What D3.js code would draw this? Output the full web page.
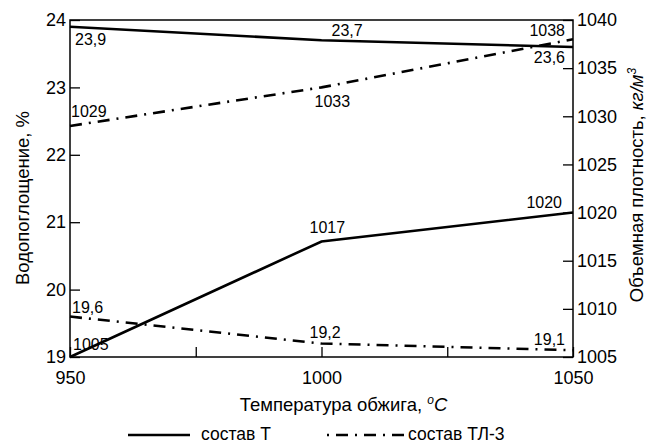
<!DOCTYPE html>
<meta charset="utf-8">
<style>
  body { margin: 0; background: #fff; }
  text { font-family: "Liberation Sans", Arial, sans-serif; fill: #000; }
</style>
<body>
<script src="https://d3js.org/d3.v7.min.js"></script>
<script>
  // data
  var temps = [950, 1000, 1050];
  var waterT = [23.9, 23.7, 23.6];      // водопоглощение, состав Т
  var waterTL = [19.6, 19.2, 19.1];     // водопоглощение, состав ТЛ-3
  var densT = [1005, 1017, 1020];       // плотность, состав Т
  var densTL = [1029, 1033, 1038];      // плотность, состав ТЛ-3
  var xTicks = [950, 975, 1000, 1025, 1050];
  var xTickLabels = [950, 1000, 1050];
  var leftTicks = [19, 20, 21, 22, 23, 24];
  var rightTicks = [1005, 1010, 1015, 1020, 1025, 1030, 1035, 1040];

  var svg = d3.select("body").append("svg")
      .attr("width", 649)
      .attr("height", 443);

  var margin = {top: 20, right: 76, bottom: 86, left: 70},
      width = 649 - margin.left - margin.right,
      height = 443 - margin.top - margin.bottom,
      g = svg.append("g").attr("transform", "translate(" + margin.left + "," + margin.top + ")");

  var x = d3.scaleLinear().domain([950, 1050]).range([0, width]);
  var yL = d3.scaleLinear().domain([19, 24]).range([height, 0]);
  var yR = d3.scaleLinear().domain([1005, 1040]).range([height, 0]);

  var dashDot = "12,7,2,7";

  // frame
  g.append("rect")
      .attr("width", width).attr("height", height)
      .attr("fill", "none").attr("stroke", "#000").attr("stroke-width", 1.5);

  // axes (ticks pointing inward)
  var axL = g.append("g").call(d3.axisLeft(yL).tickValues(leftTicks).tickFormat(d3.format("d"))
      .tickSizeInner(-10).tickSizeOuter(0).tickPadding(4));
  var axR = g.append("g").attr("transform", "translate(" + width + ",0)")
      .call(d3.axisRight(yR).tickValues(rightTicks).tickFormat(d3.format("d"))
      .tickSizeInner(-10).tickSizeOuter(0).tickPadding(4));
  var axB = g.append("g").attr("transform", "translate(0," + height + ")")
      .call(d3.axisBottom(x).tickValues(xTicks).tickSizeInner(-10).tickSizeOuter(0)
          .tickFormat(function(d) { return xTickLabels.indexOf(d) >= 0 ? d : ""; }));

  [axL, axR, axB].forEach(function(a) {
    a.select(".domain").remove();
    a.selectAll("line").attr("stroke", "#000").attr("stroke-width", 1.3);
    a.selectAll("text").attr("font-size", 18).attr("font-family", "Liberation Sans, Arial, sans-serif");
  });
  axB.selectAll("text").attr("y", 27).attr("dy", 0);

  // lines
  function lineFor(yScale) {
    return d3.line().x(function(d, i) { return x(temps[i]); }).y(function(d) { return yScale(d); });
  }
  var series = [
    {vals: waterT, y: yL, dash: null},
    {vals: waterTL, y: yL, dash: dashDot},
    {vals: densT, y: yR, dash: null},
    {vals: densTL, y: yR, dash: dashDot}
  ];
  series.forEach(function(s) {
    g.append("path")
        .datum(s.vals)
        .attr("d", lineFor(s.y))
        .attr("fill", "none")
        .attr("stroke", "#000")
        .attr("stroke-width", 2.6)
        .attr("stroke-dasharray", s.dash);
  });

  // value labels
  function fmt(v) { return String(v).replace(".", ","); }
  var labels = [
    {v: waterT[0], t: temps[0], y: yL, dx: 5, dy: 18, a: "start"},
    {v: waterT[1], t: temps[1], y: yL, dx: 10, dy: -4, a: "start"},
    {v: waterT[2], t: temps[2], y: yL, dx: -8, dy: 16, a: "end"},
    {v: waterTL[0], t: temps[0], y: yL, dx: 2, dy: -4, a: "start"},
    {v: waterTL[1], t: temps[1], y: yL, dx: -12, dy: -6, a: "start"},
    {v: waterTL[2], t: temps[2], y: yL, dx: -8, dy: -5, a: "end"},
    {v: densT[0], t: temps[0], y: yR, dx: 3, dy: -7, a: "start"},
    {v: densT[1], t: temps[1], y: yR, dx: -12, dy: -8, a: "start"},
    {v: densT[2], t: temps[2], y: yR, dx: -11, dy: -5, a: "end"},
    {v: densTL[0], t: temps[0], y: yR, dx: 1, dy: -9, a: "start"},
    {v: densTL[1], t: temps[1], y: yR, dx: -7, dy: 20, a: "start"},
    {v: densTL[2], t: temps[2], y: yR, dx: -8, dy: -3, a: "end"}
  ];
  g.selectAll(".vlabel").data(labels).enter().append("text")
      .attr("class", "vlabel")
      .attr("x", function(d) { return x(d.t) + d.dx; })
      .attr("y", function(d) { return d.y(d.v) + d.dy; })
      .attr("text-anchor", function(d) { return d.a; })
      .attr("font-size", 16)
      .text(function(d) { return fmt(d.v); });

  // axis titles
  svg.append("text")
      .attr("transform", "translate(29,198) rotate(-90)")
      .attr("text-anchor", "middle")
      .attr("font-size", 18.5)
      .text("Водопоглощение, %");

  var rt = svg.append("text")
      .attr("transform", "translate(643,185) rotate(-90)")
      .attr("text-anchor", "middle")
      .attr("font-size", 18.5);
  rt.append("tspan").text("Объемная плотность, ");
  rt.append("tspan").attr("font-style", "italic").text("кг/м");
  rt.append("tspan").attr("font-style", "italic").attr("font-size", 12).attr("dy", -7).text("3");

  var xt = svg.append("text")
      .attr("x", margin.left + width / 2 + 22)
      .attr("y", 411)
      .attr("text-anchor", "middle")
      .attr("font-size", 18.5);
  xt.append("tspan").text("Температура обжига, ");
  xt.append("tspan").attr("font-style", "italic").attr("font-size", 12).attr("dy", -7).text("o");
  xt.append("tspan").attr("font-style", "italic").attr("dy", 7).text("C");

  // legend
  var legend = [
    {name: "состав Т", dash: null, x1: 128, x2: 190, tx: 201},
    {name: "состав ТЛ-3", dash: dashDot, x1: 322, x2: 404, tx: 408}
  ];
  var lg = svg.selectAll(".leg").data(legend).enter().append("g").attr("class", "leg");
  lg.append("line")
      .attr("x1", function(d) { return d.x1; })
      .attr("x2", function(d) { return d.x2; })
      .attr("y1", 435).attr("y2", 435)
      .attr("stroke", "#000").attr("stroke-width", 2.6)
      .attr("stroke-dasharray", function(d) { return d.dash; })
      .attr("stroke-dashoffset", function(d) { return d.dash ? 14 : 0; });
  lg.append("text")
      .attr("x", function(d) { return d.tx; })
      .attr("y", 440)
      .attr("font-size", 17.5)
      .text(function(d) { return d.name; });
</script>
</body>
